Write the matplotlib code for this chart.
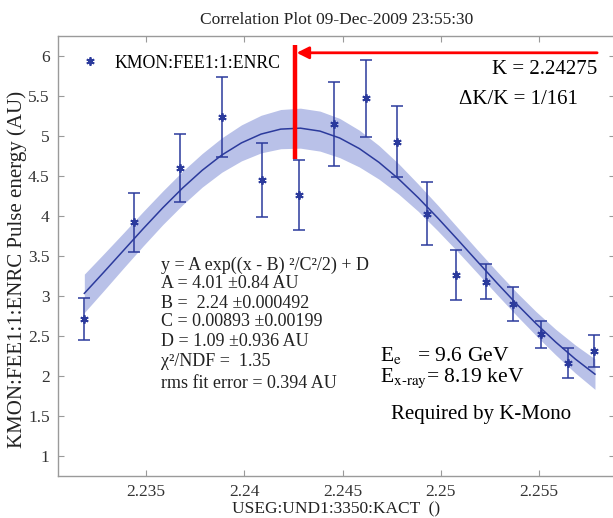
import matplotlib
matplotlib.use("Agg")
import matplotlib.pyplot as plt

plt.rcParams['font.family'] = ['Liberation Serif', 'DejaVu Serif']
plt.rcParams['mathtext.fontset'] = 'stix'

# measured points (KMON:FEE1:1:ENRC vs USEG:UND1:3350:KACT)
kact = [2.23184, 2.23440, 2.23673, 2.23888, 2.24089, 2.24279, 2.24454, 2.24619,
        2.24776, 2.24929, 2.25078, 2.25228, 2.25370, 2.25510, 2.25649, 2.25778]
enrc = [2.71, 3.92, 4.60, 5.24, 4.45, 4.26, 5.15, 5.47,
        4.93, 4.03, 3.26, 3.18, 2.90, 2.52, 2.16, 2.31]
enrc_err = [0.26, 0.37, 0.42, 0.50, 0.46, 0.44, 0.52, 0.48,
            0.44, 0.39, 0.31, 0.22, 0.21, 0.165, 0.19, 0.20]

# gaussian fit curve and its confidence band
fit_x = [2.23185, 2.23285, 2.23385, 2.23485, 2.23585, 2.23685, 2.23785, 2.23885, 2.23985,
         2.24085, 2.24185, 2.24285, 2.24385, 2.24485, 2.24585, 2.24685, 2.24785, 2.24885,
         2.24985, 2.25085, 2.25185, 2.25285, 2.25385, 2.25485, 2.25585, 2.25685, 2.25785]
fit_y = [3.033, 3.300, 3.571, 3.842, 4.104, 4.349, 4.571, 4.762, 4.914,
         5.024, 5.086, 5.098, 5.061, 4.975, 4.843, 4.671, 4.464, 4.229,
         3.974, 3.707, 3.435, 3.165, 2.903, 2.655, 2.424, 2.212, 2.023]
band = [0.24, 0.23, 0.22, 0.215, 0.21, 0.21, 0.21, 0.215, 0.225,
        0.235, 0.245, 0.25, 0.25, 0.245, 0.23, 0.21, 0.19, 0.17,
        0.16, 0.15, 0.145, 0.145, 0.145, 0.15, 0.16, 0.175, 0.19]

k_line = 2.2426

navy = '#2b3a9c'
fill = '#b9c1e8'
grey = '#9a9a9a'

fig = plt.figure(figsize=(6.13, 5.18), dpi=100)
ax = fig.add_axes([58/613, 1 - 476/518, 557/613, 440/518])

lo = [y - b for y, b in zip(fit_y, band)]
hi = [y + b for y, b in zip(fit_y, band)]
ax.fill_between(fit_x, lo, hi, color=fill, lw=0, zorder=1)
ax.plot(fit_x, fit_y, color=navy, lw=1.1, zorder=2)
ax.errorbar(kact, enrc, yerr=enrc_err, fmt='none', ecolor=navy, elinewidth=1.1,
            capsize=4.5, capthick=1.1, zorder=3)
ax.plot(kact, enrc, ls='none', marker=(6, 2, 0), ms=6, mec=navy, mew=1.3,
        color=navy, zorder=4, label='KMON:FEE1:1:ENRC')

ax.set_xlim(2.230509, 2.25887)
ax.set_ylim(0.75, 6.25)
ax.set_xticks([2.235, 2.24, 2.245, 2.25, 2.255])
ax.set_xticklabels(['2.235', '2.24', '2.245', '2.25', '2.255'])
ax.set_yticks([1, 1.5, 2, 2.5, 3, 3.5, 4, 4.5, 5, 5.5, 6])
ax.set_yticklabels(['1', '1.5', '2', '2.5', '3', '3.5', '4', '4.5', '5', '5.5', '6'])
ax.tick_params(direction='in', top=True, right=True, length=4, color=grey,
               labelcolor='#333333', labelsize=12.5, pad=6)
for s in ax.spines.values():
    s.set_color(grey)
    s.set_linewidth(1.0)

ax.set_xlabel('USEG:UND1:3350:KACT  ()', fontsize=12.5, color='#222222', labelpad=1)
ax.set_ylabel('KMON:FEE1:1:ENRC Pulse energy (AU)', fontsize=15, color='#222222')
ax.yaxis.set_label_coords(-0.055, 0.47)
fig.text(0.549, 1 - 20/518, 'Correlation Plot 09-Dec-2009 23:55:30', ha='center', va='center',
         fontsize=12.5, color='#222222')

ax.legend(loc='upper left', frameon=False, fontsize=12.75, handlelength=1.0, handletextpad=0.9,
          borderaxespad=0.4, bbox_to_anchor=(0.016, 0.99))

# K-Mono annotation in red
ax.plot([k_line, k_line], [4.71, 6.14], color='red', lw=3.2, solid_capstyle='butt', zorder=5)
ax.annotate('', xy=(k_line + 0.00006, 6.04), xytext=(2.25796, 6.04),
            arrowprops=dict(arrowstyle='-|>', color='red', lw=2, mutation_scale=18,
                            shrinkA=0, shrinkB=0), zorder=6)
ax.text(2.25796, 5.83, 'K = 2.24275', ha='right', va='center', fontsize=15, color='black')
ax.text(2.25393, 5.45, 'ΔK/K = 1/161', ha='center', va='center', fontsize=15, color='black')

fit_lines = ['y = A exp((x - B) ²/C²/2) + D',
             'A = 4.01 ±0.84 AU',
             'B =  2.24 ±0.000492',
             'C = 0.00893 ±0.00199',
             'D = 1.09 ±0.936 AU',
             'χ²/NDF =  1.35',
             'rms fit error = 0.394 AU']
fit_rows = [265, 284, 303, 322, 342, 362, 384]
for line, row in zip(fit_lines, fit_rows):
    fig.text(161/613, 1 - row/518, line, ha='left', va='center',
             fontsize=13, color='#222222')

fig.text(380/613, 1 - 355/518, r'E$_{\mathrm{e}}$   = 9.6 GeV', ha='left', va='center',
         fontsize=15.5, color='black')
fig.text(380/613, 1 - 378/518, r'E$_{\mathrm{x\text{-}ray}}$= 8.19 keV', ha='left', va='center',
         fontsize=15.5, color='black')
fig.text(481/613, 1 - 414/518, 'Required by K-Mono', ha='center', va='center',
         fontsize=15, color='black')

fig.savefig('out.png', dpi=100)
